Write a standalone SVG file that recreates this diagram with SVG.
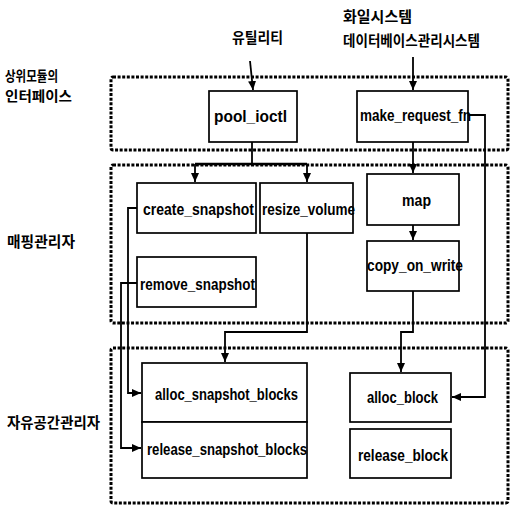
<svg xmlns="http://www.w3.org/2000/svg" width="510" height="507" viewBox="0 0 510 507">
<style>
.zone{fill:none;stroke:#000;stroke-width:3;stroke-dasharray:3 1.6}
.box{fill:#fff;stroke:#000;stroke-width:1.7}
.lbl{font-family:"Liberation Sans",Arial,sans-serif;font-weight:bold;font-size:16px;fill:#000}
.ko{font-family:"Noto Sans CJK KR","Noto Sans",sans-serif;font-size:15px;font-weight:bold;fill:#000}
.ks{font-size:13.5px}
.con{fill:none;stroke:#000;stroke-width:1.8}
</style>
<defs>
<marker id="ah" markerUnits="userSpaceOnUse" markerWidth="10" markerHeight="10" refX="9" refY="4" orient="auto">
<path d="M0,0 L9,4 L0,8 z" fill="#000"/>
</marker>
</defs>
<rect width="510" height="507" fill="#fff"/>

<g id="layers">
<rect class="zone" x="111" y="77" width="397" height="73" rx="2"/>
<rect class="zone" x="111" y="165" width="397" height="158" rx="2"/>
<rect class="zone" x="111" y="348" width="397" height="155" rx="2"/>
</g>

<g id="labels">
<text class="ko" x="232" y="43" textLength="51" lengthAdjust="spacingAndGlyphs">유틸리티</text>
<text class="ko" x="343" y="22" textLength="69" lengthAdjust="spacingAndGlyphs">화일시스템</text>
<text class="ko" x="343" y="46" textLength="137" lengthAdjust="spacingAndGlyphs">데이터베이스관리시스템</text>
<text class="ko ks" x="5" y="81" textLength="53" lengthAdjust="spacingAndGlyphs">상위모듈의</text>
<text class="ko ks" x="5" y="101" textLength="67" lengthAdjust="spacingAndGlyphs">인터페이스</text>
<text class="ko" x="7" y="247" textLength="68" lengthAdjust="spacingAndGlyphs">매핑관리자</text>
<text class="ko" x="7" y="428" textLength="93" lengthAdjust="spacingAndGlyphs">자유공간관리자</text>
</g>

<g id="connectors">
<path class="con" d="M250,61 L253,90" marker-end="url(#ah)"/>
<path class="con" d="M413,57 V90" marker-end="url(#ah)"/>
<path class="con" d="M252,142 V164"/>
<path class="con" d="M195,164 H307" style="stroke-width:2.4"/>
<path class="con" d="M195,164 V182" marker-end="url(#ah)"/>
<path class="con" d="M307,164 V182" marker-end="url(#ah)"/>
<path class="con" d="M413,142 V173" marker-end="url(#ah)"/>
<path class="con" d="M468,115 H485 V397 H452" marker-end="url(#ah)"/>
<path class="con" d="M413,225 V240" marker-end="url(#ah)"/>
<path class="con" d="M413,291 V332 H401 V372" marker-end="url(#ah)"/>
<path class="con" d="M307,233 V332 H225 V362" marker-end="url(#ah)"/>
<path class="con" d="M137,208 H128 V393 H141" marker-end="url(#ah)"/>
<path class="con" d="M137,283 H121 V448 H141" marker-end="url(#ah)"/>
</g>

<g id="pool_ioctl">
<rect class="box" x="209" y="91" width="88" height="51"/>
<text class="lbl" x="214" y="122" textLength="73" lengthAdjust="spacingAndGlyphs">pool_ioctl</text>
</g>
<g id="make_request_fn">
<rect class="box" x="357" y="91" width="111" height="51"/>
<text class="lbl" x="360" y="121" textLength="111" lengthAdjust="spacingAndGlyphs">make_request_fn</text>
</g>
<g id="create_snapshot">
<rect class="box" x="137" y="183" width="119" height="50"/>
<text class="lbl" x="143" y="215" textLength="111" lengthAdjust="spacingAndGlyphs">create_snapshot</text>
</g>
<g id="resize_volume">
<rect class="box" x="260" y="183" width="93" height="50"/>
<text class="lbl" x="262" y="215" textLength="93" lengthAdjust="spacingAndGlyphs">resize_volume</text>
</g>
<g id="map">
<rect class="box" x="367" y="174" width="92" height="51"/>
<text class="lbl" x="402" y="206" textLength="29" lengthAdjust="spacingAndGlyphs">map</text>
</g>
<g id="copy_on_write">
<rect class="box" x="367" y="241" width="92" height="50"/>
<text class="lbl" x="367" y="271" textLength="96" lengthAdjust="spacingAndGlyphs">copy_on_write</text>
</g>
<g id="remove_snapshot">
<rect class="box" x="137" y="257" width="119" height="50"/>
<text class="lbl" x="140" y="290" textLength="115" lengthAdjust="spacingAndGlyphs">remove_snapshot</text>
</g>
<g id="alloc_snapshot_blocks">
<rect class="box" x="142" y="363" width="165" height="59"/>
<text class="lbl" x="155" y="400" textLength="143" lengthAdjust="spacingAndGlyphs">alloc_snapshot_blocks</text>
</g>
<g id="release_snapshot_blocks">
<rect class="box" x="142" y="422" width="165" height="56"/>
<text class="lbl" x="147" y="455" textLength="160" lengthAdjust="spacingAndGlyphs">release_snapshot_blocks</text>
</g>
<g id="alloc_block">
<rect class="box" x="350" y="373" width="101" height="49"/>
<text class="lbl" x="367" y="403" textLength="71" lengthAdjust="spacingAndGlyphs">alloc_block</text>
</g>
<g id="release_block">
<rect class="box" x="350" y="429" width="101" height="49"/>
<text class="lbl" x="358" y="461" textLength="90" lengthAdjust="spacingAndGlyphs">release_block</text>
</g>
</svg>
